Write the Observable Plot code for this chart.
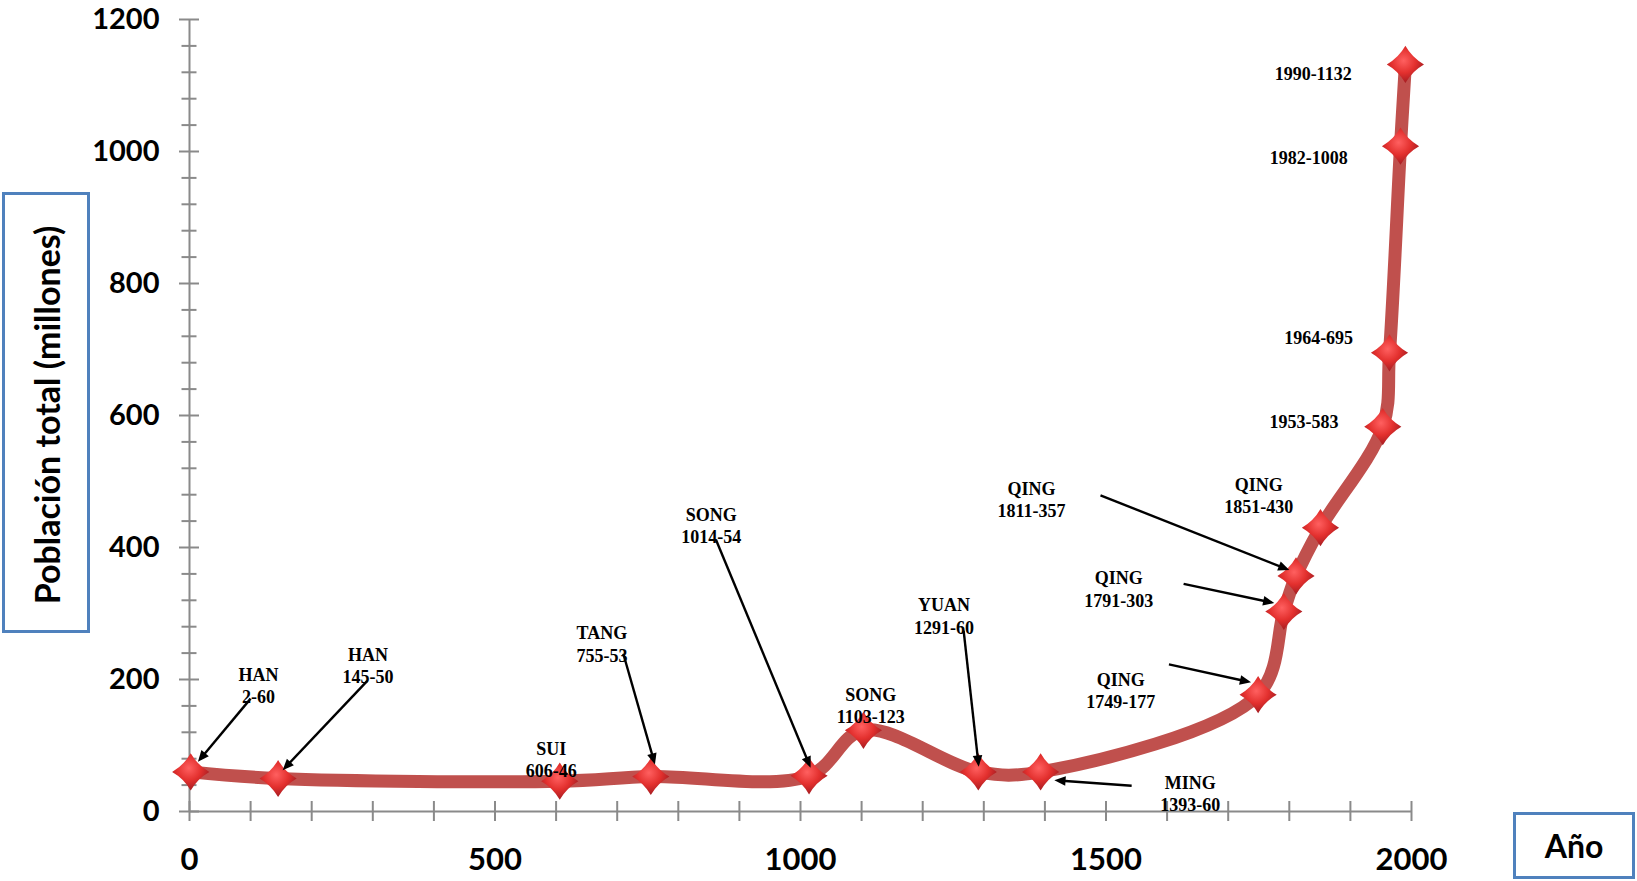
<!DOCTYPE html>
<html><head><meta charset="utf-8">
<script src="https://cdn.jsdelivr.net/npm/d3@7"></script>
<script src="https://cdn.jsdelivr.net/npm/@observablehq/plot@0.6"></script>
<style>
html,body{margin:0;padding:0;background:#fff;overflow:hidden;}
#wrap{position:relative;width:1637px;height:881px;}
#wrap svg{position:absolute;left:0;top:0;}
.box{position:absolute;box-sizing:border-box;border:3.5px solid #4F81BD;background:#fff;font-family:Lato,"Open Sans",sans-serif;font-weight:bold;color:#000;}
#ytitle{left:2px;top:192px;width:88px;height:441px;}
#ytitle span{position:absolute;left:50%;top:220px;transform:translate(-50%,-50%) rotate(-90deg);white-space:nowrap;font-size:34px;}
#xtitle{left:1513px;top:812px;width:122px;height:67px;display:flex;align-items:center;justify-content:center;font-size:32px;}
</style></head><body><div id="wrap"></div>
<script>
// Data: year and total population (millions)
const years = [2, 145, 606, 755, 1014, 1103, 1291, 1393, 1749, 1791, 1811, 1851, 1953, 1964, 1982, 1990];
const population = [60, 50, 46, 53, 54, 123, 60, 60, 177, 303, 357, 430, 583, 695, 1008, 1132];
const dynasty = ["HAN", "HAN", "SUI", "TANG", "SONG", "SONG", "YUAN", "MING", "QING", "QING", "QING", "QING", "", "", "", ""];
// Label anchor positions (data units)
const labelX = [113, 292, 592, 675, 854, 1115, 1235, 1638, 1524, 1521, 1378, 1750, 1824, 1848, 1832, 1839];
const labelY = [192, 222, 80, 255, 434, 162, 297, 28, 184, 338, 474, 480, 592, 720, 992, 1119];
// Annotation arrows (data units)
const arrowFromX = [100, 291, 710, 862, 1267, 1542, 1603, 1627, 1491];
const arrowFromY = [171, 198, 239, 411, 274, 39, 223, 345, 479];
const arrowToX = [18, 157, 760, 1014, 1291, 1422, 1731, 1769, 1794];
const arrowToY = [80, 67, 77, 72, 74, 47, 197, 317, 368];
// Axis ticks
const xTickLabels = [0, 500, 1000, 1500, 2000];
const xTicks = d3.range(0, 2001, 100);
const yTickLabels = [0, 200, 400, 600, 800, 1000, 1200];
const yMinorTicks = d3.range(0, 1201, 40).filter(v => v % 200 !== 0);

const points = years.map((y, i) => ({year: y, pop: population[i]}));
const labels = years.map((y, i) => ({
  x: labelX[i], y: labelY[i],
  text: (dynasty[i] ? dynasty[i] + "\n" : "") + y + "-" + population[i]
}));
const arrows = arrowFromX.map((x, i) => ({x1: x, y1: arrowFromY[i], x2: arrowToX[i], y2: arrowToY[i]}));

const W = 1637, H = 881, ML = 189, MR = 226, MT = 19, MB = 70;
const FW = W - ML - MR, FH = H - MT - MB;
const axisGray = "#8a8a8a";

const starDiamond = {
  draw(ctx, size) {
    const r = Math.sqrt(size / Math.PI) * 1.2;
    const k = r * 0.36;
    ctx.moveTo(0, -r);
    ctx.quadraticCurveTo(k, -k, r, 0);
    ctx.quadraticCurveTo(k, k, 0, r);
    ctx.quadraticCurveTo(-k, k, -r, 0);
    ctx.quadraticCurveTo(-k, -k, 0, -r);
    ctx.closePath();
  }
};

const chart = Plot.plot({
  width: W, height: H,
  marginLeft: ML, marginRight: MR, marginTop: MT, marginBottom: MB,
  x: {domain: [0, 2000]},
  y: {domain: [0, 1200]},
  style: {background: "transparent", overflow: "visible", color: "#000"},
  marks: [
    Plot.axisY({ticks: yTickLabels, tickFormat: d => String(d), tickSize: 0, tickPadding: 30, fontSize: 29, fontWeight: "bold", fontFamily: "Lato", label: null}),
    Plot.axisX({ticks: xTickLabels, tickFormat: d => String(d), tickSize: 0, tickPadding: 36, fontSize: 31, fontWeight: "bold", fontFamily: "Lato", label: null}),
    Plot.ruleX([0], {stroke: axisGray, strokeWidth: 2}),
    Plot.ruleY([0], {stroke: axisGray, strokeWidth: 2}),
    Plot.tickY(yTickLabels, {y: d => d, insetRight: FW - 20, dx: -10, stroke: axisGray, strokeWidth: 2}),
    Plot.tickY(yMinorTicks, {y: d => d, insetRight: FW - 15, dx: -7.5, stroke: axisGray, strokeWidth: 2}),
    Plot.tickX(xTicks, {x: d => d, insetTop: FH - 20, dy: 10, stroke: axisGray, strokeWidth: 2}),
    Plot.line(points, {x: "year", y: "pop", curve: "catmull-rom", stroke: "#C0504D", strokeWidth: 13, strokeLinejoin: "round", strokeLinecap: "round"}),
    Plot.dot(points, {x: "year", y: "pop", symbol: starDiamond, r: 15.5, fill: "url(#mk)", stroke: "none"}),
    Plot.link(arrows, {x1: "x1", y1: "y1", x2: "x2", y2: "y2", stroke: "#000", strokeWidth: 2.4, markerEnd: "arrow"}),
    Plot.text(labels, {x: "x", y: "y", text: "text", fontFamily: "Liberation Serif", fontWeight: "bold", fontSize: 18, lineHeight: 1.25, fill: "#000"})
  ]
});

const defs = d3.select(chart).insert("defs", ":first-child");
defs.html(
  '<radialGradient id="mk" cx="45%" cy="40%" r="60%">' +
  '<stop offset="0%" stop-color="#ff6060"/>' +
  '<stop offset="55%" stop-color="#e3302e"/>' +
  '<stop offset="100%" stop-color="#a51d22"/>' +
  '</radialGradient>'
);
// make the arrow heads solid triangles
d3.select(chart).selectAll("marker")
  .attr("fill", "#000").attr("stroke", "none")
  .selectAll("path").attr("d", "M-4.5,-3L2.5,0L-4.5,3Z");

const wrap = document.getElementById("wrap");
wrap.appendChild(chart);
const yt = document.createElement("div");
yt.className = "box"; yt.id = "ytitle";
yt.innerHTML = "<span>Población total (millones)</span>";
wrap.appendChild(yt);
const xt = document.createElement("div");
xt.className = "box"; xt.id = "xtitle";
xt.textContent = "Año";
wrap.appendChild(xt);
</script>
</body></html>
